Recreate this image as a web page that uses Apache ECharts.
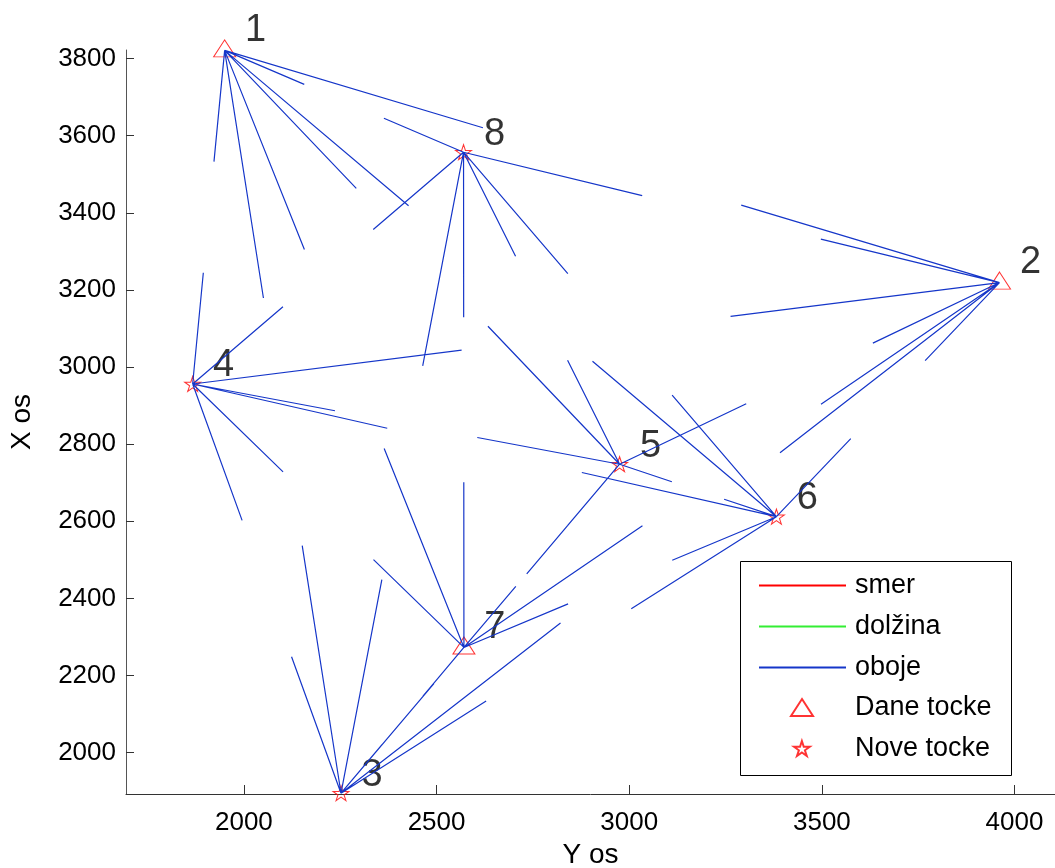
<!DOCTYPE html>
<html>
<head>
<meta charset="utf-8">
<title>Mreža točk</title>
<script src="https://cdn.jsdelivr.net/npm/echarts@6/dist/echarts.min.js"></script>
<style>
  html, body { margin: 0; padding: 0; background: #fff; }
  #chart { width: 1055px; height: 868px; }
</style>
</head>
<body>
<div id="chart"></div>
<script>
// tocke: Y (vodoravno) in X (navpicno)
const pointNames = ['1', '2', '3', '4', '5', '6', '7', '8']
const pointY = [1950, 3961, 2252, 1867, 2975, 3382, 2571, 2570]
const pointX = [3821, 3219, 1895, 2956, 2748, 2612, 2273, 3557]

// dane tocke (trikotnik) in nove tocke (zvezda), po imenih
const danePoints = ['1', '2', '7']
const novePoints = ['3', '4', '5', '6', '8']

// opazovanja [stojisce, cilj]
const smerObs = []
const dolzinaObs = []
const obojeObs = [
  [1, 2], [1, 3], [1, 4], [1, 5], [1, 6], [1, 7], [1, 8],
  [2, 1], [2, 3], [2, 4], [2, 5], [2, 6], [2, 7], [2, 8],
  [3, 1], [3, 2], [3, 4], [3, 5], [3, 6], [3, 7], [3, 8],
  [4, 1], [4, 2], [4, 3], [4, 5], [4, 6], [4, 7], [4, 8],
  [5, 1], [5, 2], [5, 3], [5, 4], [5, 6], [5, 7], [5, 8],
  [6, 1], [6, 2], [6, 3], [6, 4], [6, 5], [6, 7], [6, 8],
  [7, 1], [7, 2], [7, 3], [7, 4], [7, 5], [7, 6], [7, 8],
  [8, 1], [8, 2], [8, 3], [8, 4], [8, 5], [8, 6], [8, 7]
]
// del razdalje, ki se narise od stojisca proti cilju
const segmentFraction = 1 / 3

const xTicks = [2000, 2500, 3000, 3500, 4000]
const yTicks = [2000, 2200, 2400, 2600, 2800, 3000, 3200, 3400, 3600, 3800]

const FONT = "'Liberation Sans', Arial, sans-serif"
const STAR = 'path://M100 0 L122.45 69.1 L195.1 69.1 L136.33 111.8 L158.8 180.9 L100 138.2 L41.2 180.9 L63.67 111.8 L4.9 69.1 L77.55 69.1 Z'

function segments(list) {
  const data = []
  list.forEach(([from, to]) => {
    const a = from - 1
    const b = to - 1
    const y0 = pointY[a]
    const x0 = pointX[a]
    data.push([y0, x0])
    data.push([y0 + (pointY[b] - y0) * segmentFraction, x0 + (pointX[b] - x0) * segmentFraction])
    data.push([null, null])
  })
  return data
}

function pointsOf(names) {
  return names.map(n => {
    const i = pointNames.indexOf(n)
    return { name: n, value: [pointY[i], pointX[i]] }
  })
}

function lineSeries(name, color, list) {
  return {
    name,
    type: 'line',
    data: segments(list),
    symbol: 'none',
    showSymbol: false,
    connectNulls: false,
    silent: true,
    z: 3,
    lineStyle: { color, width: 1.2 },
    itemStyle: { color }
  }
}

const pointLabel = {
  show: true,
  position: 'inside',
  offset: [31, -18],
  formatter: p => p.name,
  color: '#000',
  fontSize: 38,
  fontFamily: FONT
}

const legendText = { fontSize: 27, lineHeight: 27, fontFamily: FONT, color: '#000' }

const chart = echarts.init(document.getElementById('chart'))

const option = {
  animation: false,
  backgroundColor: '#fff',
  grid: { left: 126, right: 0, top: 50, bottom: 74, outerBoundsMode: 'none', containLabel: false },
  xAxis: {
    type: 'value',
    min: 1694,
    max: 4105,
    name: 'Y os',
    nameLocation: 'middle',
    nameGap: 47,
    nameTextStyle: { fontSize: 28, fontFamily: FONT, color: '#000' },
    axisLine: { show: true, lineStyle: { color: '#333', width: 1 } },
    axisTick: { show: true, inside: true, length: 9, customValues: xTicks, lineStyle: { color: '#333' } },
    axisLabel: {
      customValues: xTicks,
      formatter: v => String(v),
      fontSize: 26,
      fontFamily: FONT,
      color: '#000',
      margin: 16
    },
    splitLine: { show: false }
  },
  yAxis: {
    type: 'value',
    min: 1893,
    max: 3822,
    name: 'X os',
    nameLocation: 'middle',
    nameGap: 90,
    nameTextStyle: { fontSize: 28, fontFamily: FONT, color: '#000' },
    axisLine: { show: true, lineStyle: { color: '#555', width: 1 } },
    axisTick: { show: true, inside: true, length: 8, customValues: yTicks, lineStyle: { color: '#333' } },
    axisLabel: {
      customValues: yTicks,
      formatter: v => String(v),
      fontSize: 26,
      fontFamily: FONT,
      color: '#000',
      margin: 10
    },
    splitLine: { show: false }
  },
  legend: [
    {
      data: ['smer', 'dolžina', 'oboje'],
      orient: 'vertical',
      left: 758,
      top: 572,
      padding: 0,
      itemWidth: 87,
      itemHeight: 14,
      itemGap: 14,
      selectedMode: false,
      z: 10,
      itemStyle: { opacity: 0 },
      textStyle: { ...legendText, padding: [0, 0, 0, 4] }
    },
    {
      data: ['Dane tocke'],
      orient: 'vertical',
      left: 790,
      top: 694,
      padding: 0,
      itemWidth: 22,
      itemHeight: 17,
      selectedMode: false,
      z: 10,
      textStyle: { ...legendText, padding: [0, 0, 0, 37] }
    },
    {
      data: ['Nove tocke'],
      orient: 'vertical',
      left: 793,
      top: 735,
      padding: 0,
      itemWidth: 16,
      itemHeight: 15,
      selectedMode: false,
      z: 10,
      textStyle: { ...legendText, padding: [0, 0, 0, 40] }
    }
  ],
  graphic: [{
    type: 'rect',
    z: 1,
    shape: { x: 740.5, y: 561.5, width: 271, height: 214 },
    style: { fill: '#fff', stroke: '#000', lineWidth: 1 }
  }],
  series: [
    lineSeries('smer', '#ff0000', smerObs),
    lineSeries('dolžina', '#33ee33', dolzinaObs),
    lineSeries('oboje', '#1536c9', obojeObs),
    {
      name: 'Dane tocke',
      type: 'scatter',
      data: pointsOf(danePoints),
      symbol: 'triangle',
      symbolSize: [22, 17],
      symbolOffset: [0, -2],
      z: 2,
      silent: true,
      itemStyle: { color: 'rgba(0,0,0,0)', borderColor: '#ff0000', borderWidth: 1 },
      label: pointLabel
    },
    {
      name: 'Nove tocke',
      type: 'scatter',
      data: pointsOf(novePoints),
      symbol: STAR,
      symbolSize: [16, 15],
      z: 2,
      silent: true,
      itemStyle: { color: 'rgba(0,0,0,0)', borderColor: '#ff0000', borderWidth: 1 },
      label: pointLabel
    }
  ]
}

chart.setOption(option)
</script>
</body>
</html>
